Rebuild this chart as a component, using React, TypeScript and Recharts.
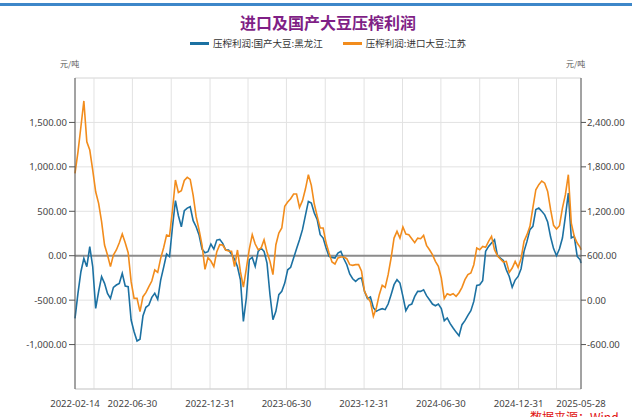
import { LineChart, Line, XAxis, YAxis, CartesianGrid, ReferenceLine } from 'recharts'

// weekly samples from 2022-02-14, plus the last date on the chart
const START = Date.UTC(2022, 1, 14)
const DAY = 86400000
const dates: string[] = [
  ...Array.from({ length: 172 }, (_, k) => new Date(START + k * 7 * DAY).toISOString().slice(0, 10)),
  '2025-05-28',
]

// 压榨利润:国产大豆:黑龙江 (left axis, 元/吨)
const heilongjiang = [
  -705, -424, -180, -30, -124, 101, -124, -593, -405, -236,
  -311, -424, -480, -356, -330, -311, -199, -341, -349, -724,
  -855, -960, -940, -679, -581, -555, -469, -424, -491, -274,
  -131, 19, -11, 326, 620, 450, 326, 506, 536, 551,
  394, 326, 233, 75, 34, 45, 131, 75, 176, 184,
  139, 64, 64, 15, -38, -124, -270, -739, -476, -45,
  -19, -120, 49, 86, 49, -83, -439, -720, -626, -439,
  -401, -308, -158, -131, -26, 79, 180, 293, 454, 611,
  593, 480, 405, 236, 199, 86, -8, -19, -26, 30,
  49, -34, -101, -206, -259, -289, -259, -251, -401, -484,
  -465, -585, -626, -607, -596, -607, -544, -439, -326, -270,
  -308, -458, -619, -559, -544, -458, -401, -401, -383, -450,
  -495, -544, -563, -544, -596, -731, -701, -765, -814, -860,
  -900, -776, -731, -671, -619, -514, -334, -326, -281, 49,
  105, 143, 180, 0, -26, -53, -158, -233, -356, -274,
  -233, -146, 49, 161, 293, 330, 520, 536, 500, 460,
  379, 210, 80, 0, 79, 199, 443, 705, 199, 218,
  -8, -45, -83,
]

// 压榨利润:进口大豆:江苏 (right axis, 元/吨)
const jiangsu = [
  1712, 2000, 2342, 2690, 2139, 2027, 1757, 1464, 1307, 1059,
  744, 609, 452, 609, 677, 776, 893, 776, 641, 249,
  24, 24, -156, 47, 101, 182, 258, 407, 375, 564,
  708, 879, 866, 1217, 1622, 1455, 1478, 1617, 1658, 1631,
  1415, 1127, 947, 744, 416, 573, 528, 452, 654, 749,
  744, 677, 663, 659, 452, 677, 384, 177, 425, 690,
  884, 758, 681, 703, 816, 650, 524, 344, 749, 906,
  974, 1266, 1325, 1370, 1433, 1433, 1253, 1343, 1500, 1694,
  1550, 1298, 1131, 974, 974, 771, 636, 515, 488, 569,
  582, 582, 560, 479, 470, 479, 479, 390, 119, 37,
  -23, -219, -106, 74, 200, 173, 344, 569, 838, 929,
  838, 987, 893, 884, 830, 776, 838, 830, 875, 740,
  681, 614, 524, 456, 299, 20, 87, 69, 87, 51,
  100, 173, 276, 344, 366, 479, 704, 681, 726, 713,
  794, 861, 681, 600, 555, 515, 524, 375, 434, 524,
  443, 560, 794, 884, 996, 1250, 1491, 1560, 1608, 1580,
  1468, 1221, 1010, 960, 1005, 1244, 1424, 1694, 1041, 861,
  771, 713, 681,
]

const gridDates = [
  '2022-02-14', '2022-03-31', '2022-06-30', '2022-09-30', '2022-12-31',
  '2023-03-31', '2023-06-30', '2023-09-30', '2023-12-31', '2024-03-31',
  '2024-06-30', '2024-09-30', '2024-12-31', '2025-03-31', '2025-05-28',
]
const labelDates = [
  '2022-02-14', '2022-06-30', '2022-12-31', '2023-06-30',
  '2023-12-31', '2024-06-30', '2024-12-31', '2025-05-28',
]
const leftTicks = [-1000, -500, 0, 500, 1000, 1500]
const rightTicks = [-600, 0, 600, 1200, 1800, 2400]

const toDay = (d: string) => Math.round((Date.parse(d) - START) / DAY)
const dayToDate = new Map(gridDates.map((d) => [toDay(d), d]))

const data = dates.map((d, i) => ({
  t: toDay(d),
  date: d,
  hlj: heilongjiang[i],
  js: jiangsu[i],
}))

const fmt = (v: number) =>
  v.toLocaleString('en-US', { minimumFractionDigits: 2, maximumFractionDigits: 2 })

const BLUE = '#1c71a2'
const ORANGE = '#f28c1c'
const NUM_FONT = '"Noto Sans", "Liberation Sans", sans-serif'
const CJK_FONT = '"Noto Sans CJK SC", "Noto Sans", sans-serif'

export default function App() {
  const tickStyle = { fontSize: 9.5, fill: '#444', fontFamily: NUM_FONT }
  return (
    <div
      style={{
        position: 'absolute',
        left: 0,
        top: 0,
        width: 632,
        height: 417,
        overflow: 'hidden',
        background: '#fff',
        fontFamily: CJK_FONT,
      }}
    >
      <div style={{ position: 'absolute', left: 0, top: 3, width: 632, height: 3, background: '#3d87c9' }} />
      <div
        style={{
          position: 'absolute',
          left: 75,
          width: 506,
          top: 11,
          textAlign: 'center',
          fontSize: 16,
          fontWeight: 700,
          color: '#7f1f86',
          lineHeight: '22px',
        }}
      >
        进口及国产大豆压榨利润
      </div>
      <div
        style={{
          position: 'absolute',
          left: 75,
          width: 506,
          top: 35,
          display: 'flex',
          justifyContent: 'center',
          alignItems: 'center',
          gap: 20,
          fontSize: 9.5,
          color: '#333',
          lineHeight: '16px',
        }}
      >
        {[
          { name: '压榨利润:国产大豆:黑龙江', color: BLUE },
          { name: '压榨利润:进口大豆:江苏', color: ORANGE },
        ].map((s) => (
          <div key={s.name} style={{ display: 'flex', alignItems: 'center', gap: 4 }}>
            <span style={{ display: 'inline-block', width: 19, height: 3, background: s.color }} />
            <span>{s.name}</span>
          </div>
        ))}
      </div>
      <div style={{ position: 'absolute', left: 60, top: 58, fontSize: 8, color: '#555' }}>元/吨</div>
      <div style={{ position: 'absolute', left: 566, top: 58, fontSize: 8, color: '#555' }}>元/吨</div>

      <LineChart
        width={632}
        height={417}
        data={data}
        margin={{ top: 78, right: 0, left: 0, bottom: 0 }}
        style={{ position: 'absolute', left: 0, top: 0 }}
      >
        <CartesianGrid stroke="#e2e2e2" strokeWidth={1} yAxisId="left" />
        <XAxis
          dataKey="t"
          type="number"
          domain={[toDay(gridDates[0]), toDay(gridDates[gridDates.length - 1])]}
          ticks={gridDates.map(toDay)}
          interval={0}
          tickFormatter={(v: number) => {
            const d = dayToDate.get(v)
            return d && labelDates.includes(d) ? d : ''
          }}
          height={28}
          tickLine={false}
          tickSize={0}
          tickMargin={11}
          axisLine={{ stroke: '#cfcfcf' }}
          tick={tickStyle}
        />
        <YAxis
          yAxisId="left"
          domain={[-1500, 2000]}
          ticks={leftTicks}
          interval={0}
          width={75}
          tickFormatter={fmt}
          tickSize={6}
          tickMargin={2}
          axisLine={{ stroke: '#555' }}
          tickLine={{ stroke: '#555' }}
          tick={tickStyle}
        />
        <YAxis
          yAxisId="right"
          orientation="right"
          domain={[-1200, 3000]}
          ticks={rightTicks}
          interval={0}
          width={51}
          tickFormatter={fmt}
          tickSize={5}
          tickMargin={1}
          axisLine={{ stroke: '#555' }}
          tickLine={{ stroke: '#555' }}
          tick={tickStyle}
        />
        <ReferenceLine yAxisId="left" y={2000} stroke="#e2e2e2" />
        <ReferenceLine yAxisId="left" y={0} stroke="#8c8c8c" strokeWidth={2} />
        <Line
          yAxisId="left"
          dataKey="hlj"
          type="linear"
          stroke={BLUE}
          strokeWidth={1.6}
          dot={false}
          isAnimationActive={false}
        />
        <Line
          yAxisId="right"
          dataKey="js"
          type="linear"
          stroke={ORANGE}
          strokeWidth={1.6}
          dot={false}
          isAnimationActive={false}
        />
      </LineChart>

      <div
        style={{
          position: 'absolute',
          left: 530,
          top: 411,
          fontSize: 12,
          lineHeight: '12px',
          color: '#e01010',
          whiteSpace: 'nowrap',
        }}
      >
        数据来源：Wind
      </div>
    </div>
  )
}
